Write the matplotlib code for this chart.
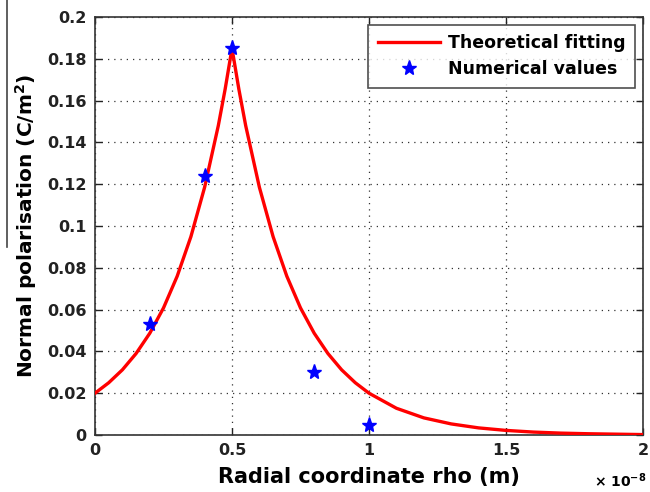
import matplotlib
matplotlib.use("Agg")
import matplotlib.pyplot as plt
from matplotlib.lines import Line2D
from matplotlib.ticker import FixedLocator, FuncFormatter

# Theoretical fitting curve (x in units of 1e-8 m)
fit_x = [0, 0.05, 0.1, 0.15, 0.2, 0.25, 0.3, 0.35, 0.4, 0.45, 0.475, 0.5,
         0.525, 0.55, 0.6, 0.65, 0.7, 0.75, 0.8, 0.85, 0.9, 0.95, 1.0,
         1.1, 1.2, 1.3, 1.4, 1.5, 1.6, 1.7, 1.8, 1.9, 2.0]
fit_y = [0.0200, 0.0250, 0.0312, 0.0390, 0.0487, 0.0608, 0.0760, 0.0949, 0.1185, 0.1480, 0.1655, 0.1850,
         0.1655, 0.1480, 0.1185, 0.0949, 0.0760, 0.0608, 0.0487, 0.0390, 0.0312, 0.0250, 0.0200,
         0.0128, 0.0082, 0.0053, 0.0034, 0.0022, 0.0014, 0.0009, 0.0006, 0.0004, 0.0002]

# Numerical values
num_x = [0.2, 0.4, 0.5, 0.8, 1.0]
num_y = [0.053, 0.124, 0.185, 0.030, 0.005]

x_scale = 1e-8
xticks = [0, 0.5, 1, 1.5, 2]
yticks = [0, 0.02, 0.04, 0.06, 0.08, 0.1, 0.12, 0.14, 0.16, 0.18, 0.2]

plt.rcParams['font.family'] = ['DejaVu Sans']
plt.rcParams['font.weight'] = 'bold'
plt.rcParams['mathtext.default'] = 'bf'

fig = plt.figure(figsize=(6.5, 4.92), dpi=100)
ax = fig.add_axes([95/650, 1-435/492, 548/650, 418/492])

ax.plot([v * x_scale for v in fit_x], fit_y, color='#ff0000', lw=2.4,
        label='Theoretical fitting', zorder=3)
ax.plot([v * x_scale for v in num_x], num_y, linestyle='none', marker='*',
        color='#0000ff', markersize=11, label='Numerical values', zorder=4)

ax.set_xlim(0, 2 * x_scale)
ax.set_ylim(0, 0.2)
ax.xaxis.set_major_locator(FixedLocator([t * x_scale for t in xticks]))
ax.xaxis.set_major_formatter(FuncFormatter(lambda v, p: f"{v / x_scale:g}"))
ax.yaxis.set_major_locator(FixedLocator(yticks))
ax.yaxis.set_major_formatter(FuncFormatter(lambda v, p: f"{v:g}"))

ax.grid(True, linestyle=(0, (1, 4)), color='#333333', lw=0.9)
ax.tick_params(direction='in', top=True, right=True, length=5, width=1,
               labelsize=11.5, pad=6, colors='#222222')
for s in ax.spines.values():
    s.set_linewidth(1.2)
    s.set_color('#333333')

ax.set_xlabel('Radial coordinate rho (m)', fontsize=15, fontweight='bold', labelpad=6)
ax.set_ylabel('Normal polarisation (C/m$^2$)', fontsize=14.5, fontweight='bold', labelpad=6)

fig.text(594/650, 1-481/492, r'$\times$ 10$^{-8}$', fontsize=10, fontweight='bold',
         va='center', ha='left')

leg = ax.legend(loc='upper right', frameon=True, fancybox=False,
                edgecolor='#222222', borderaxespad=0.45, handlelength=3.6,
                handletextpad=0.45, borderpad=0.55, labelspacing=0.45,
                prop={'weight': 'bold', 'size': 12.5})
leg.get_frame().set_linewidth(1.2)

fig.add_artist(Line2D([7/650, 7/650], [1, 1-247/492], color='#444444', lw=1.2))

fig.savefig('out.png', dpi=100)
